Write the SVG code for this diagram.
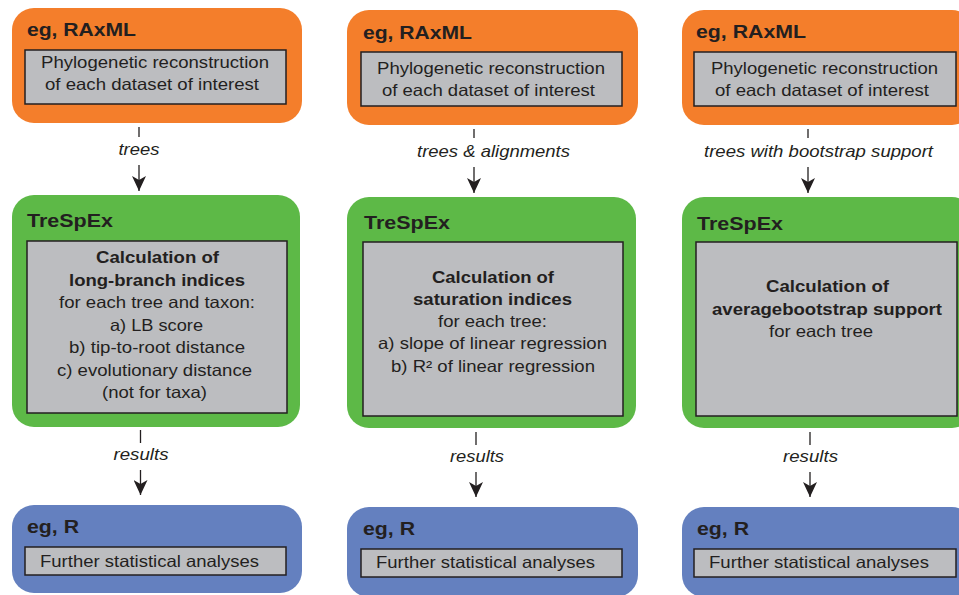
<svg xmlns="http://www.w3.org/2000/svg" width="959" height="595" viewBox="0 0 959 595">
<defs>
<style>
.orange{fill:#F47E2B}
.green{fill:#5DB947}
.blue{fill:#6480BF}
.inner{fill:#BCBDC0;stroke:#231F20;stroke-width:1.5}
text{font-family:"Liberation Sans",Arial,Helvetica,sans-serif;fill:#231F20}
.title{font-size:18.5px;font-weight:bold}
.body{font-size:16.5px}
.bold{font-size:16.5px;font-weight:bold}
.lab{font-size:16.5px;font-style:italic}
.c{text-anchor:middle}
.stem{stroke:#231F20;stroke-width:1.3;fill:none}
</style>
<marker id="arr" viewBox="0 0 15 14" refX="15" refY="7" markerWidth="15" markerHeight="14" markerUnits="userSpaceOnUse" orient="auto">
<path d="M0,0 L15,7 L0,14 L4,7 Z" fill="#231F20"/>
</marker>
</defs>
<rect width="959" height="595" fill="#FFFFFF"/>

<g id="connectors">
<line class="stem" x1="139" y1="127" x2="139" y2="137"/>
<line class="stem" x1="139" y1="165" x2="139" y2="191" marker-end="url(#arr)"/>
<text class="lab c" x="139" y="155" textLength="41" lengthAdjust="spacingAndGlyphs">trees</text>
<line class="stem" x1="474" y1="129" x2="474" y2="138"/>
<line class="stem" x1="474" y1="167" x2="474" y2="193" marker-end="url(#arr)"/>
<text class="lab c" x="493.5" y="156.7" textLength="153" lengthAdjust="spacingAndGlyphs">trees &amp; alignments</text>
<line class="stem" x1="808" y1="129" x2="808" y2="138"/>
<line class="stem" x1="808" y1="167" x2="808" y2="193" marker-end="url(#arr)"/>
<text class="lab c" x="818.5" y="156.7" textLength="229" lengthAdjust="spacingAndGlyphs">trees with bootstrap support</text>

<line class="stem" x1="140.5" y1="430" x2="140.5" y2="443"/>
<line class="stem" x1="140.5" y1="470" x2="140.5" y2="495" marker-end="url(#arr)"/>
<text class="lab c" x="141" y="460" textLength="55" lengthAdjust="spacingAndGlyphs">results</text>
<line class="stem" x1="476" y1="432" x2="476" y2="445"/>
<line class="stem" x1="476" y1="472" x2="476" y2="497" marker-end="url(#arr)"/>
<text class="lab c" x="477" y="462.3" textLength="54" lengthAdjust="spacingAndGlyphs">results</text>
<line class="stem" x1="810" y1="432" x2="810" y2="445"/>
<line class="stem" x1="810" y1="472" x2="810" y2="497" marker-end="url(#arr)"/>
<text class="lab c" x="810.5" y="462" textLength="55" lengthAdjust="spacingAndGlyphs">results</text>
</g>

<g id="raxml1">
<rect class="orange" x="12" y="8" width="290" height="115" rx="22"/>
<text class="title" x="27" y="36" textLength="109" lengthAdjust="spacingAndGlyphs">eg, RAxML</text>
<rect class="inner" x="25" y="50" width="261" height="54"/>
<text class="body c" x="155" y="68.3" textLength="228" lengthAdjust="spacingAndGlyphs">Phylogenetic reconstruction</text>
<text class="body c" x="152" y="90" textLength="214" lengthAdjust="spacingAndGlyphs">of each dataset of interest</text>
</g>

<g id="trespex1">
<rect class="green" x="12" y="195" width="288" height="232" rx="22"/>
<text class="title" x="27" y="227.3" textLength="86" lengthAdjust="spacingAndGlyphs">TreSpEx</text>
<rect class="inner" x="27" y="241" width="260" height="172"/>
<text class="bold c" x="157.5" y="263.3" textLength="123" lengthAdjust="spacingAndGlyphs">Calculation of</text>
<text class="bold c" x="157" y="285.7" textLength="176" lengthAdjust="spacingAndGlyphs">long-branch indices</text>
<text class="body c" x="157" y="308.3" textLength="196" lengthAdjust="spacingAndGlyphs">for each tree and taxon:</text>
<text class="body c" x="156.5" y="330.5" textLength="93" lengthAdjust="spacingAndGlyphs">a) LB score</text>
<text class="body c" x="157" y="353.3" textLength="176" lengthAdjust="spacingAndGlyphs">b) tip-to-root distance</text>
<text class="body c" x="154.5" y="375.5" textLength="195" lengthAdjust="spacingAndGlyphs">c) evolutionary distance</text>
<text class="body c" x="154.5" y="398.3" textLength="105" lengthAdjust="spacingAndGlyphs">(not for taxa)</text>
</g>

<g id="r1">
<rect class="blue" x="12" y="505" width="290" height="88" rx="22"/>
<text class="title" x="27" y="533.3" textLength="52" lengthAdjust="spacingAndGlyphs">eg, R</text>
<rect class="inner" x="25" y="547" width="261" height="28"/>
<text class="body" x="40" y="566.7" textLength="219" lengthAdjust="spacingAndGlyphs">Further statistical analyses</text>
</g>

<g id="raxml2">
<rect class="orange" x="347" y="10" width="291" height="115" rx="22"/>
<text class="title" x="363" y="39" textLength="109" lengthAdjust="spacingAndGlyphs">eg, RAxML</text>
<rect class="inner" x="361" y="52" width="261" height="54"/>
<text class="body c" x="491" y="74" textLength="228" lengthAdjust="spacingAndGlyphs">Phylogenetic reconstruction</text>
<text class="body c" x="488.5" y="96" textLength="213" lengthAdjust="spacingAndGlyphs">of each dataset of interest</text>
</g>

<g id="trespex2">
<rect class="green" x="347" y="197" width="289" height="231" rx="22"/>
<text class="title" x="364" y="229.3" textLength="86" lengthAdjust="spacingAndGlyphs">TreSpEx</text>
<rect class="inner" x="363" y="242" width="260" height="174"/>
<text class="bold c" x="493" y="282.7" textLength="122" lengthAdjust="spacingAndGlyphs">Calculation of</text>
<text class="bold c" x="492.5" y="305" textLength="159" lengthAdjust="spacingAndGlyphs">saturation indices</text>
<text class="body c" x="492.5" y="327.3" textLength="109" lengthAdjust="spacingAndGlyphs">for each tree:</text>
<text class="body c" x="492.5" y="349.3" textLength="229" lengthAdjust="spacingAndGlyphs">a) slope of linear regression</text>
<text class="body c" x="493" y="371.7" textLength="204" lengthAdjust="spacingAndGlyphs">b) R² of linear regression</text>
</g>

<g id="r2">
<rect class="blue" x="347" y="507" width="291" height="90" rx="22"/>
<text class="title" x="363" y="535" textLength="52" lengthAdjust="spacingAndGlyphs">eg, R</text>
<rect class="inner" x="361" y="549" width="261" height="28"/>
<text class="body" x="376" y="568.3" textLength="219" lengthAdjust="spacingAndGlyphs">Further statistical analyses</text>
</g>

<g id="raxml3">
<rect class="orange" x="682" y="10" width="292" height="115" rx="22"/>
<text class="title" x="696" y="38.3" textLength="110" lengthAdjust="spacingAndGlyphs">eg, RAxML</text>
<rect class="inner" x="694" y="52" width="262" height="54"/>
<text class="body c" x="824.5" y="73.5" textLength="227" lengthAdjust="spacingAndGlyphs">Phylogenetic reconstruction</text>
<text class="body c" x="822" y="95.7" textLength="214" lengthAdjust="spacingAndGlyphs">of each dataset of interest</text>
</g>

<g id="trespex3">
<rect class="green" x="682" y="197" width="292" height="231" rx="22"/>
<text class="title" x="697" y="230" textLength="86" lengthAdjust="spacingAndGlyphs">TreSpEx</text>
<rect class="inner" x="696" y="242" width="261" height="174"/>
<text class="bold c" x="827.5" y="291.7" textLength="123" lengthAdjust="spacingAndGlyphs">Calculation of</text>
<text class="bold c" x="827" y="315" textLength="230" lengthAdjust="spacingAndGlyphs">averagebootstrap support</text>
<text class="body c" x="821" y="336.7" textLength="104" lengthAdjust="spacingAndGlyphs">for each tree</text>
</g>

<g id="r3">
<rect class="blue" x="682" y="507" width="292" height="90" rx="22"/>
<text class="title" x="697" y="535" textLength="52" lengthAdjust="spacingAndGlyphs">eg, R</text>
<rect class="inner" x="694" y="549" width="262" height="28"/>
<text class="body" x="709" y="568.3" textLength="220" lengthAdjust="spacingAndGlyphs">Further statistical analyses</text>
</g>
</svg>
